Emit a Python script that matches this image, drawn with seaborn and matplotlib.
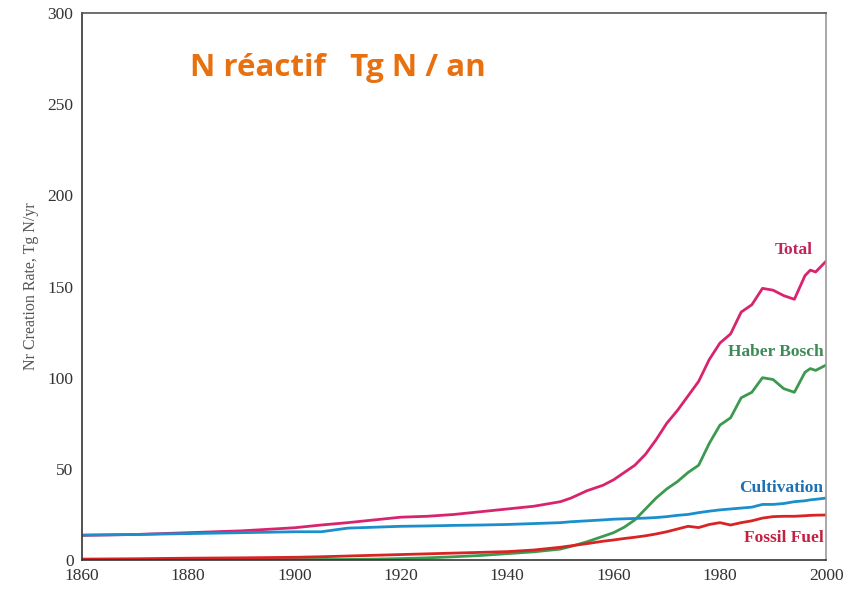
import matplotlib
matplotlib.use("Agg")
import matplotlib.pyplot as plt
import seaborn as sns
import pandas as pd

years = [1860, 1870, 1880, 1890, 1900, 1905, 1910, 1915, 1920, 1925, 1930, 1935,
         1940, 1945, 1950, 1952, 1955, 1958, 1960, 1962, 1964, 1966, 1968, 1970,
         1972, 1974, 1976, 1978, 1980, 1982, 1984, 1986, 1988, 1990, 1992, 1994,
         1996, 1997, 1998, 2000]

total = [13.5, 14, 15, 16, 17.7, 19.2, 20.5, 22, 23.5, 24, 25, 26.5,
         28, 29.5, 32, 34, 38, 41, 44, 48, 52, 58, 66, 75,
         82, 90, 98, 110, 119, 124, 136, 140, 149, 148, 145, 143,
         156, 159, 158, 164]

haber_bosch = [0.3, 0.3, 0.3, 0.3, 0.3, 0.3, 0.3, 0.5, 0.8, 1.2, 1.8, 2.5,
               3.5, 4.5, 6, 7.5, 10, 13, 15, 18, 22, 28, 34, 39,
               43, 48, 52, 64, 74, 78, 89, 92, 100, 99, 94, 92,
               103, 105, 104, 107]

cultivation = [13.7, 14, 14.5, 15, 15.5, 15.5, 17.5, 18, 18.5, 18.7, 19, 19.2,
               19.5, 20, 20.5, 21, 21.5, 22, 22.4, 22.6, 22.8, 23, 23.3, 23.8,
               24.5, 25, 26, 26.8, 27.5, 28, 28.5, 29, 30.5, 30.5, 31, 32,
               32.5, 33, 33.3, 34]

fossil_fuel = [0.5, 0.7, 1, 1.2, 1.5, 1.8, 2.2, 2.6, 3, 3.4, 3.8, 4.2,
               4.6, 5.5, 7, 7.8, 9, 10.3, 11, 11.8, 12.5, 13.3, 14.3, 15.5,
               17, 18.5, 17.8, 19.5, 20.5, 19.2, 20.5, 21.5, 23, 23.8, 24, 24,
               24.3, 24.5, 24.6, 24.7]

series_names = ["Total", "Haber Bosch", "Cultivation", "Fossil Fuel"]
series_values = [total, haber_bosch, cultivation, fossil_fuel]
line_colors = ["#d8246e", "#3c9a50", "#1a8fcc", "#d82424"]
label_colors = ["#c0245a", "#3d8a55", "#1e70b4", "#c42040"]
label_y = [170, 114, 39.5, 12]

x_ticks = [1860, 1880, 1900, 1920, 1940, 1960, 1980, 2000]
y_ticks = [0, 50, 100, 150, 200, 250, 300]

rows = []
for name, vals in zip(series_names, series_values):
    for yr, v in zip(years, vals):
        rows.append({"year": yr, "value": v, "series": name})
df = pd.DataFrame(rows)

sns.set_style("white")
plt.rcParams["font.family"] = ["Liberation Serif", "DejaVu Serif"]

fig = plt.figure(figsize=(8.44, 5.93), dpi=100)
ax = fig.add_axes([0.097, 0.0556, 0.882, 0.9224])

sns.lineplot(data=df, x="year", y="value", hue="series", hue_order=series_names,
             palette=line_colors, linewidth=2, ax=ax, legend=False)

ax.set_xlim(1860, 2000)
ax.set_ylim(0, 300)
ax.set_xticks(x_ticks)
ax.set_yticks(y_ticks)
ax.tick_params(axis="both", direction="out", length=4, width=1, colors="#333333",
               labelsize=12.5, pad=2)
ax.set_xlabel("")
ax.set_ylabel("Nr Creation Rate, Tg N/yr", fontsize=11.5, color="#555555", labelpad=6)

for side, col in [("left", "#333333"), ("bottom", "#333333"), ("top", "#555555"), ("right", "#999999")]:
    ax.spines[side].set_visible(True)
    ax.spines[side].set_color(col)
    ax.spines[side].set_linewidth(1.2)

for name, col, ly in zip(series_names, label_colors, label_y):
    xr = 1997.5 if name == "Total" else 1999.5
    ax.text(xr, ly, name, ha="right", va="center", fontsize=12.5, fontweight="bold",
            color=col)

fig.text(0.225, 0.885, "N réactif   Tg N / an", fontsize=22.5, fontweight="bold",
         color="#e8700f", family=["Open Sans", "DejaVu Sans"], ha="left", va="center")

fig.savefig("out.png", dpi=100, facecolor="white")
